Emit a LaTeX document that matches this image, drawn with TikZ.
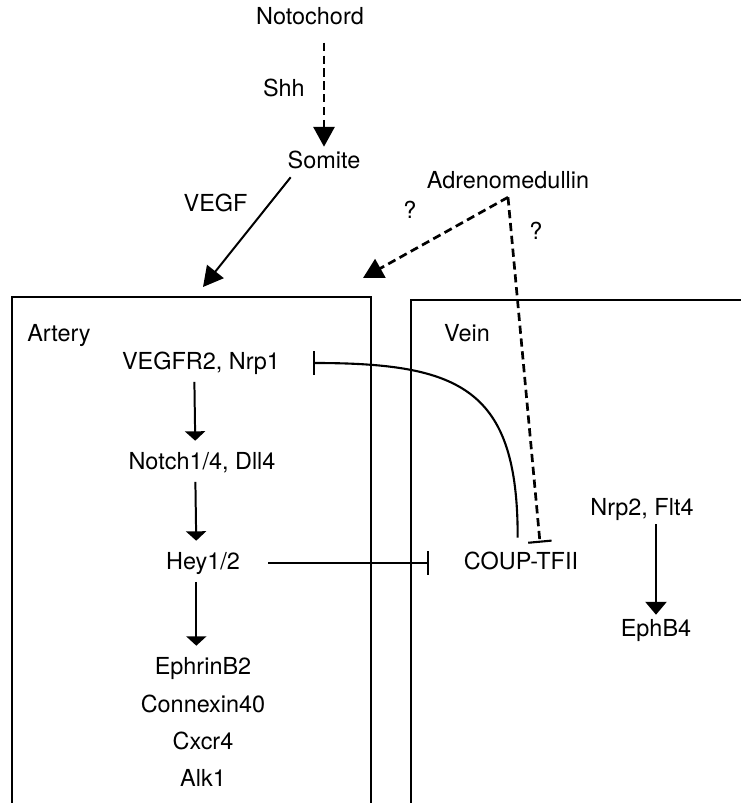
\documentclass[tikz,border=0pt]{standalone}
\usepackage{fontspec}
\setmainfont{TeX Gyre Heros}
\usetikzlibrary{arrows.meta, positioning, calc}

\begin{document}
\begin{tikzpicture}[
    x=0.03cm, y=-0.03cm,
    font=\fontsize{20}{24}\selectfont,
    txt/.style={text height=15pt, text depth=4pt},
    wall/.style={line width=1.8pt},
    conn/.style={line width=1.7pt, -{Triangle[length=17pt, width=18pt]}},
    dconn/.style={conn, line width=2.3pt, dash pattern=on 7pt off 4pt},
    flow/.style={line width=1.7pt, -{Triangle[length=8pt, width=17pt]}, shorten >=6pt, shorten <=3pt},
    block/.style={line width=1.8pt, -{Bar[width=20pt, line width=1.8pt]}}
]
    \useasboundingbox (0,0) rectangle (741,803);

    % Compartments (open at the bottom)
    \draw[wall] (12,803) -- (12,297) -- (371,297) -- (371,803);
    \draw[wall] (411,803) -- (411,300) -- (741,300);

    % Nodes
    \node[txt] (noto) at (310,18) {Notochord};
    \node[txt] (somite) at (324,162) {Somite};
    \node[txt] (adm) at (508,182) {Adrenomedullin};
    \node[txt] at (59,335) {Artery};
    \node[txt] at (467,335) {Vein};
    \node[txt] (vegfr) at (201,363) {VEGFR2, Nrp1};
    \node[txt] (notch) at (202,463) {Notch1/4, Dll4};
    \node[txt] (hey) at (203,563) {Hey1/2};
    \node[txt] (ephrin) at (203,668) {EphrinB2};
    \node[txt] (cx) at (203,706) {Connexin40};
    \node[txt] (cxcr) at (203,743) {Cxcr4};
    \node[txt] (alk) at (203,780) {Alk1};
    \node[txt] (coup) at (521,563) {COUP-TFII};
    \node[txt] (nrp) at (642,509) {Nrp2, Flt4};
    \node[txt] (ephb) at (656,630) {EphB4};
    \node[txt] (qa) at (410,212) {?};
    \node[txt] (qb) at (536,233) {?};

    \coordinate (vegftip) at (203,287);
    \coordinate (admtip) at (363,278);

    % Connections
    \draw[dconn, shorten <=8pt] (somite.north |- noto.south) -- (somite.north)
        node[midway, left=12pt, txt] {Shh};
    \draw[conn] ([xshift=-1cm]somite.south) -- (vegftip)
        node[pos=0.25, left=14pt, txt] {VEGF};
    \draw[dconn] (adm.south) -- (admtip);
    \draw[block, dash pattern=on 7pt off 4pt, line width=2.3pt] (adm.south) -- ([xshift=0.57cm, yshift=0.15cm]coup.north);
    \draw[block] ([xshift=-0.1cm, yshift=0.3cm]coup.north) .. controls (518,389) and (461,363) .. ([xshift=0.87cm]vegfr.east);
    \draw[block, shorten <=0.72cm, shorten >=0.93cm] (hey) -- (coup);
    \foreach \a/\b in {vegfr/notch, notch/hey, hey/ephrin}
        \draw[flow] ([xshift=-0.2cm]\a.south) -- ([xshift=-0.2cm]\b.north);
    \draw[conn, -{Triangle[length=11pt, width=18pt]}] (nrp.south -| ephb) -- (ephb.north);
\end{tikzpicture}
\end{document}
